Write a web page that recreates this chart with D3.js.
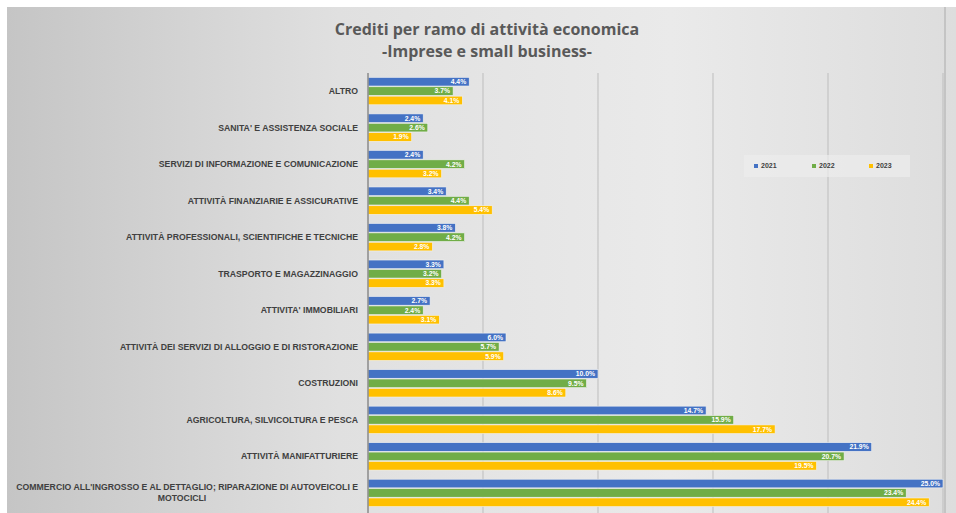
<!DOCTYPE html>
<html>
<head>
<meta charset="utf-8">
<script src="https://cdn.jsdelivr.net/npm/d3@7"></script>
<style>
  body { margin: 0; background: #fff; }
  svg { display: block; }
</style>
</head>
<body>
<div class="chart"></div>
<script>
// values (share of credits, %)
const categories = [
    "ALTRO",
    "SANITA' E ASSISTENZA SOCIALE",
    "SERVIZI DI INFORMAZIONE E COMUNICAZIONE",
    "ATTIVITÀ FINANZIARIE E ASSICURATIVE",
    "ATTIVITÀ PROFESSIONALI, SCIENTIFICHE E TECNICHE",
    "TRASPORTO E MAGAZZINAGGIO",
    "ATTIVITA' IMMOBILIARI",
    "ATTIVITÀ DEI SERVIZI DI ALLOGGIO E DI RISTORAZIONE",
    "COSTRUZIONI",
    "AGRICOLTURA, SILVICOLTURA E PESCA",
    "ATTIVITÀ MANIFATTURIERE",
    "COMMERCIO ALL'INGROSSO E AL DETTAGLIO; RIPARAZIONE DI AUTOVEICOLI E|MOTOCICLI"
];
const years = ["2021", "2022", "2023"];
const values2021 = [4.4, 2.4, 2.4, 3.4, 3.8, 3.3, 2.7, 6.0, 10.0, 14.7, 21.9, 25.0];
const values2022 = [3.7, 2.6, 4.2, 4.4, 4.2, 3.2, 2.4, 5.7, 9.5, 15.9, 20.7, 23.4];
const values2023 = [4.1, 1.9, 3.2, 5.4, 2.8, 3.3, 3.1, 5.9, 8.6, 17.7, 19.5, 24.4];
const xTicks = [0, 5, 10, 15, 20, 25];

const series = [values2021, values2022, values2023];
const colors = ["#4472C4", "#70AD47", "#FFC000"];

const width = 956, height = 513;
const margin = {top: 73, left: 368, right: 13, bottom: 2};

const svg = d3.select("div.chart")
    .append("svg")
    .attr("width", width)
    .attr("height", height);

// chart background
const defs = svg.append("defs");
const grad = defs.append("linearGradient").attr("id", "bg");
[["0%", "#c5c5c5"], ["35%", "#e0e0e0"], ["70%", "#eaeaea"], ["100%", "#dddddd"]]
    .forEach(s => grad.append("stop").attr("offset", s[0]).attr("stop-color", s[1]));

svg.append("rect")
    .attr("x", 7).attr("y", 7)
    .attr("width", width - 7).attr("height", height - 7)
    .attr("fill", "url(#bg)");
svg.append("line")
    .attr("x1", 945).attr("x2", 945).attr("y1", 7).attr("y2", height)
    .attr("stroke", "#c4c4c4").attr("stroke-width", 2);

// title
const title = svg.append("text")
    .attr("text-anchor", "middle")
    .attr("font-family", "Open Sans, sans-serif")
    .attr("font-weight", "bold")
    .attr("font-size", 16)
    .attr("fill", "#595959");
title.append("tspan").attr("x", 487).attr("y", 35).text("Crediti per ramo di attività economica");
title.append("tspan").attr("x", 487).attr("y", 57).text("-Imprese e small business-");

const x = d3.scaleLinear()
    .domain([0, 25])
    .range([margin.left, margin.left + 575]);

const y = d3.scaleBand()
    .domain(categories)
    .range([margin.top, height - margin.bottom])
    .paddingInner(0.25)
    .paddingOuter(0.12);

const yInner = d3.scaleBand()
    .domain(years)
    .range([0, y.bandwidth()])
    .paddingInner(0.08);

// gridlines
svg.append("g")
    .selectAll("line")
    .data(xTicks.slice(1))
    .enter()
    .append("line")
    .attr("x1", d => x(d)).attr("x2", d => x(d))
    .attr("y1", margin.top).attr("y2", height)
    .attr("stroke", "#bdbdbd")
    .attr("stroke-width", 1);

// bars
const groups = svg.append("g")
    .selectAll("g")
    .data(categories)
    .enter()
    .append("g")
    .attr("transform", d => `translate(0,${y(d)})`);

groups.each(function (cat, i) {
    const g = d3.select(this);
    years.forEach((yr, k) => {
        const v = series[k][i];
        g.append("rect")
            .attr("x", x(0))
            .attr("y", yInner(yr))
            .attr("width", x(v) - x(0))
            .attr("height", yInner.bandwidth())
            .attr("fill", colors[k])
            .attr("stroke", "#f2f2f2")
            .attr("stroke-width", 0.6);
        g.append("text")
            .attr("x", x(v) - 3)
            .attr("y", yInner(yr) + yInner.bandwidth() / 2)
            .attr("dy", "0.35em")
            .attr("text-anchor", "end")
            .attr("font-family", "Liberation Sans, sans-serif")
            .attr("font-weight", "bold")
            .attr("font-size", 6.8)
            .attr("fill", "#ffffff")
            .text(v.toFixed(1) + "%");
    });
});

// category axis
svg.append("line")
    .attr("x1", x(0)).attr("x2", x(0))
    .attr("y1", margin.top).attr("y2", height)
    .attr("stroke", "#8a8a8a")
    .attr("stroke-width", 1.5);

const labels = svg.append("g")
    .selectAll("text")
    .data(categories)
    .enter()
    .append("text")
    .attr("text-anchor", "end")
    .attr("font-family", "Liberation Sans, sans-serif")
    .attr("font-weight", "bold")
    .attr("font-size", 8.7)
    .attr("fill", "#404040");

labels.each(function (d) {
    const parts = d.split("|");
    const t = d3.select(this);
    const cy = y(d) + y.bandwidth() / 2;
    const startY = cy - (parts.length - 1) * 5.5;
    parts.forEach((p, j) => {
        t.append("tspan")
            .attr("x", parts.length > 1 && j > 0 ? 182 : 358)
            .attr("text-anchor", parts.length > 1 && j > 0 ? "middle" : "end")
            .attr("y", startY + j * 11)
            .attr("dy", "0.35em")
            .text(p);
    });
});

// legend
const legend = svg.append("g").attr("transform", "translate(744,155)");
legend.append("rect")
    .attr("width", 166).attr("height", 22)
    .attr("fill", "#ececec").attr("opacity", 0.7);
const legendX = [10, 68, 125];
years.forEach((yr, k) => {
    legend.append("rect")
        .attr("x", legendX[k]).attr("y", 9)
        .attr("width", 4).attr("height", 4)
        .attr("fill", colors[k]);
    legend.append("text")
        .attr("x", legendX[k] + 7).attr("y", 11)
        .attr("dy", "0.35em")
        .attr("font-family", "Liberation Sans, sans-serif")
        .attr("font-weight", "bold")
        .attr("font-size", 7)
        .attr("fill", "#404040")
        .text(yr);
});
</script>
</body>
</html>
